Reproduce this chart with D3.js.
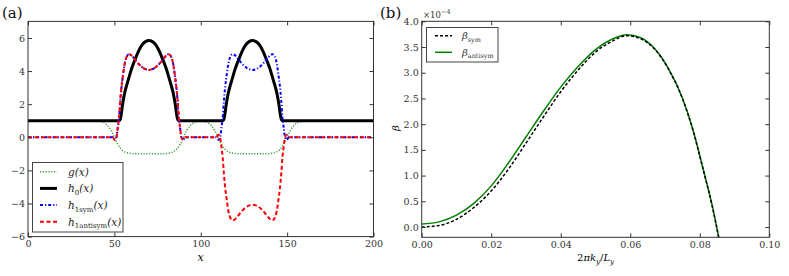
<!DOCTYPE html>
<html>
<head>
<meta charset="utf-8">
<script src="https://cdn.jsdelivr.net/npm/d3@7"></script>
<style>
  body { margin: 0; background: #fff; }
  svg, svg text { font-family: "DejaVu Serif", serif; }
  svg { display: block; }
  .tick text { fill: #333; font-size: 9.5px; }
  .tick line { stroke: #333; }
</style>
</head>
<body>
<svg id="chart" width="789" height="276"></svg>
<script>
// ---- panel (a) data ----
var gX = [0, 36, 40, 42, 44, 46, 48, 50, 52, 54, 56, 58, 60, 64, 76, 80, 82, 84, 86, 88, 90, 92, 94, 96, 98, 100, 102, 104, 106, 108, 110, 112, 114, 116, 118, 120, 124, 136, 140, 142, 144, 146, 148, 150, 152, 154, 156, 158, 160, 164, 200]
var gY = [1, 1, 0.98, 0.95, 0.88, 0.72, 0.43, 0, -0.43, -0.72, -0.88, -0.95, -0.98, -1, -1, -0.98, -0.95, -0.88, -0.72, -0.43, 0, 0.43, 0.72, 0.88, 0.95, 0.96, 0.95, 0.88, 0.72, 0.43, 0, -0.43, -0.72, -0.88, -0.95, -0.98, -1, -1, -0.98, -0.95, -0.88, -0.72, -0.43, 0, 0.43, 0.72, 0.88, 0.95, 0.98, 1, 1]

var h0X = [0, 53, 53.5, 54, 54.5, 55, 56, 57, 58, 60, 62, 64, 66, 68, 70, 72, 74, 76, 78, 80, 82, 83, 84, 85, 85.5, 86, 86.5, 87,
           113, 113.5, 114, 114.5, 115, 116, 117, 118, 120, 122, 124, 126, 128, 130, 132, 134, 136, 138, 140, 142, 143, 144, 145, 145.5, 146, 146.5, 147, 200]
var h0Y = [1, 1, 1.12, 1.4, 1.8, 2.15, 2.7, 3.1, 3.45, 4.15, 4.7, 5.2, 5.58, 5.78, 5.84, 5.78, 5.58, 5.2, 4.7, 4.15, 3.45, 3.1, 2.7, 2.15, 1.8, 1.4, 1.12, 1,
           1, 1.12, 1.4, 1.8, 2.15, 2.7, 3.1, 3.45, 4.15, 4.7, 5.2, 5.58, 5.78, 5.84, 5.78, 5.58, 5.2, 4.7, 4.15, 3.45, 3.1, 2.7, 2.15, 1.8, 1.4, 1.12, 1, 1]

var h1X = [0, 49, 50.2, 51.2, 52, 52.7, 53.4, 54.2, 55, 56, 57.2, 58.5, 59.5, 60.5, 61.5, 63, 65, 67.5, 70, 72.5, 75, 77, 78.5, 79.5, 80.5, 81.5, 82.8, 84, 85, 85.8, 86.6, 87.3, 88, 88.8, 89.8, 91,
           109, 110.2, 111.2, 112, 112.7, 113.4, 114.2, 115, 116, 117.2, 118.5, 119.5, 120.5, 121.5, 123, 125, 127.5, 130, 132.5, 135, 137, 138.5, 139.5, 140.5, 141.5, 142.8, 144, 145, 145.8, 146.6, 147.3, 148, 148.8, 149.8, 151, 200]
var h1symY = [0, 0, -0.15, 0, 0.6, 1.2, 2.2, 3.1, 3.75, 4.45, 4.88, 5.02, 4.98, 4.88, 4.76, 4.56, 4.33, 4.14, 4.07, 4.14, 4.33, 4.56, 4.76, 4.88, 4.98, 5.02, 4.88, 4.45, 3.75, 3.1, 2.2, 1.2, 0.6, 0, -0.15, 0,
              0, -0.15, 0, 0.6, 1.2, 2.2, 3.1, 3.75, 4.45, 4.88, 5.02, 4.98, 4.88, 4.76, 4.56, 4.33, 4.14, 4.07, 4.14, 4.33, 4.56, 4.76, 4.88, 4.98, 5.02, 4.88, 4.45, 3.75, 3.1, 2.2, 1.2, 0.6, 0, -0.15, 0, 0]
var h1antiY = [0, 0, -0.15, 0, 0.6, 1.2, 2.2, 3.1, 3.75, 4.45, 4.88, 5.02, 4.98, 4.88, 4.76, 4.56, 4.33, 4.14, 4.07, 4.14, 4.33, 4.56, 4.76, 4.88, 4.98, 5.02, 4.88, 4.45, 3.75, 3.1, 2.2, 1.2, 0.6, 0, -0.15, 0,
               0, 0.15, 0, -0.6, -1.2, -2.2, -3.1, -3.75, -4.45, -4.88, -5.02, -4.98, -4.88, -4.76, -4.56, -4.33, -4.14, -4.07, -4.14, -4.33, -4.56, -4.76, -4.88, -4.98, -5.02, -4.88, -4.45, -3.75, -3.1, -2.2, -1.2, -0.6, 0, 0.15, 0, 0]

var aXTicks = [0, 50, 100, 150, 200]
var aYTicks = [-6, -4, -2, 0, 2, 4, 6]

// ---- panel (b) data (units of 1e-4) ----
var kY = [0, 0.005, 0.01, 0.015, 0.02, 0.025, 0.03, 0.035, 0.04, 0.045, 0.05, 0.055, 0.059, 0.063, 0.067, 0.071, 0.075, 0.078, 0.081, 0.0835, 0.087]
var betaAnti = [0.06, 0.1, 0.23, 0.46, 0.8, 1.25, 1.75, 2.25, 2.72, 3.12, 3.45, 3.66, 3.74, 3.68, 3.47, 3.08, 2.51, 1.9, 1.12, 0.44, -0.75]
var betaSym = [0.0, 0.03, 0.15, 0.38, 0.7, 1.13, 1.63, 2.14, 2.63, 3.05, 3.4, 3.62, 3.72, 3.66, 3.46, 3.07, 2.5, 1.89, 1.11, 0.43, -0.76]

var bXTicks = [0, 0.02, 0.04, 0.06, 0.08, 0.1]
var bYTicks = [0, 0.5, 1, 1.5, 2, 2.5, 3, 3.5, 4]

var svg = d3.select("#chart")

function noFont(s) {
    s.attr("font-family", null).attr("font-size", null)
    s.select(".domain").remove()
}

function frame(g, x, y, xt, yt, xfmt, yfmt) {
    var w = x.range()[1] - x.range()[0]
    var h = y.range()[0] - y.range()[1]
    g.append("g").attr("transform", "translate(0," + y.range()[0] + ")")
        .call(d3.axisBottom(x).tickValues(xt).tickSize(-4).tickPadding(4).tickFormat(xfmt))
        .call(noFont)
    g.append("g").attr("transform", "translate(0," + y.range()[1] + ")")
        .call(d3.axisTop(x).tickValues(xt).tickSize(-4).tickFormat(""))
        .call(noFont)
    g.append("g").attr("transform", "translate(" + x.range()[0] + ",0)")
        .call(d3.axisLeft(y).tickValues(yt).tickSize(-4).tickPadding(3).tickFormat(yfmt))
        .call(noFont)
    g.append("g").attr("transform", "translate(" + x.range()[1] + ",0)")
        .call(d3.axisRight(y).tickValues(yt).tickSize(-4).tickFormat(""))
        .call(noFont)
    g.append("rect")
        .attr("x", x.range()[0]).attr("y", y.range()[1])
        .attr("width", w).attr("height", h)
        .attr("fill", "none").attr("stroke", "#333").attr("stroke-width", 1)
}

function series(g, xs, ys, x, y, color, width, dash) {
    var pts = xs.map((d, i) => [d, ys[i]])
    var line = d3.line().x(d => x(d[0])).y(d => y(d[1])).curve(d3.curveMonotoneX)
    g.append("path").datum(pts)
        .attr("d", line)
        .attr("fill", "none")
        .attr("stroke", color)
        .attr("stroke-width", width)
        .attr("stroke-dasharray", dash)
}

// ---------- panel (a) ----------
var xa = d3.scaleLinear().domain([0, 200]).range([28, 373.5])
var ya = d3.scaleLinear().domain([-6, 7]).range([236.6, 21.4])
var ga = svg.append("g")

series(ga, gX, gY, xa, ya, "#3a9e3a", 1.5, "1.2,1.6")
series(ga, h0X, h0Y, xa, ya, "#000", 3, null)
series(ga, h1X, h1symY, xa, ya, "#0000ff", 2, "3,2,1.2,2")
series(ga, h1X, h1antiY, xa, ya, "#ff0000", 2, "4,2.5")
frame(ga, xa, ya, aXTicks, aYTicks, d3.format("d"), d3.format("d"))

ga.append("text").attr("x", 200.5).attr("y", 261).attr("text-anchor", "middle")
    .attr("font-size", 11).attr("font-style", "italic").text("x")
svg.append("text").attr("x", 2).attr("y", 18).attr("font-size", 15).attr("fill", "#111").text("(a)")

// legend (a)
var la = ga.append("g")
la.append("rect").attr("x", 32.5).attr("y", 162.5).attr("width", 90.5).attr("height", 69.5)
    .attr("fill", "#fff").attr("stroke", "#444").attr("stroke-width", 1)
var legA = [
    {c: "#3a9e3a", w: 1.5, d: "1.2,1.6", base: "g", sub: "", rest: "(x)"},
    {c: "#000", w: 3, d: null, base: "h", sub: "0", rest: "(x)"},
    {c: "#0000ff", w: 2, d: "3,2,1.2,2", base: "h", sub: "1sym", rest: "(x)"},
    {c: "#ff0000", w: 2, d: "4,2.5", base: "h", sub: "1antisym", rest: "(x)"}
]
legA.forEach(function(e, i) {
    var yy = 171.7 + i * 16.7
    la.append("line").attr("x1", 40).attr("x2", 57).attr("y1", yy).attr("y2", yy)
        .attr("stroke", e.c).attr("stroke-width", e.w).attr("stroke-dasharray", e.d)
    var t = la.append("text").attr("x", 68).attr("y", yy + 4).attr("font-size", 10.5).attr("fill", "#222")
    t.append("tspan").attr("font-style", "italic").text(e.base)
    if (e.sub) t.append("tspan").attr("font-size", 7).attr("dy", 2.5).text(e.sub)
    var r = t.append("tspan").attr("font-style", "italic").text(e.rest)
    if (e.sub) r.attr("dy", -2.5)
})

// ---------- panel (b) ----------
var xb = d3.scaleLinear().domain([0, 0.1]).range([421.7, 769.3])
var yb = d3.scaleLinear().domain([-0.2, 4]).range([237.3, 21.3])
var gb = svg.append("g")
svg.append("clipPath").attr("id", "clipb").append("rect")
    .attr("x", 421.7).attr("y", 21.3).attr("width", 347.6).attr("height", 216)
var cb = gb.append("g").attr("clip-path", "url(#clipb)")
series(cb, kY, betaAnti, xb, yb, "#008000", 1.5, null)
series(cb, kY, betaSym, xb, yb, "#000", 1.5, "3,2")
frame(gb, xb, yb, bXTicks, bYTicks, d3.format(".2f"), d3.format(".1f"))

var xl = gb.append("text").attr("x", 595.5).attr("y", 261).attr("text-anchor", "middle").attr("font-size", 10)
xl.append("tspan").text("2")
xl.append("tspan").attr("font-style", "italic").text("πk")
xl.append("tspan").attr("font-style", "italic").attr("font-size", 7).attr("dy", 2.5).text("y")
xl.append("tspan").attr("dy", -2.5).text("/")
xl.append("tspan").attr("font-style", "italic").text("L")
xl.append("tspan").attr("font-style", "italic").attr("font-size", 7).attr("dy", 2.5).text("y")

gb.append("text").attr("transform", "translate(399,128) rotate(-90)").attr("text-anchor", "middle")
    .attr("font-size", 10).attr("font-style", "italic").text("β")
var ex = gb.append("text").attr("x", 423).attr("y", 18).attr("font-size", 8.5).attr("fill", "#333")
ex.append("tspan").text("×10")
ex.append("tspan").attr("font-size", 6.5).attr("dy", -4).text("−4")
svg.append("text").attr("x", 380).attr("y", 18).attr("font-size", 15).attr("fill", "#111").text("(b)")

// legend (b)
var lb = gb.append("g")
lb.append("rect").attr("x", 426.5).attr("y", 27.5).attr("width", 71.5).attr("height", 34.5)
    .attr("fill", "#fff").attr("stroke", "#444").attr("stroke-width", 1)
var legB = [
    {c: "#000", d: "3,2", sub: "sym"},
    {c: "#008000", d: null, sub: "antisym"}
]
legB.forEach(function(e, i) {
    var yy = 35.7 + i * 16.6
    lb.append("line").attr("x1", 435).attr("x2", 452).attr("y1", yy).attr("y2", yy)
        .attr("stroke", e.c).attr("stroke-width", 1.5).attr("stroke-dasharray", e.d)
    var t = lb.append("text").attr("x", 462).attr("y", yy + 3.5).attr("font-size", 10).attr("fill", "#333")
    t.append("tspan").attr("font-style", "italic").text("β")
    t.append("tspan").attr("font-size", 6.5).attr("dy", 2.5).text(e.sub)
})
</script>
</body>
</html>
